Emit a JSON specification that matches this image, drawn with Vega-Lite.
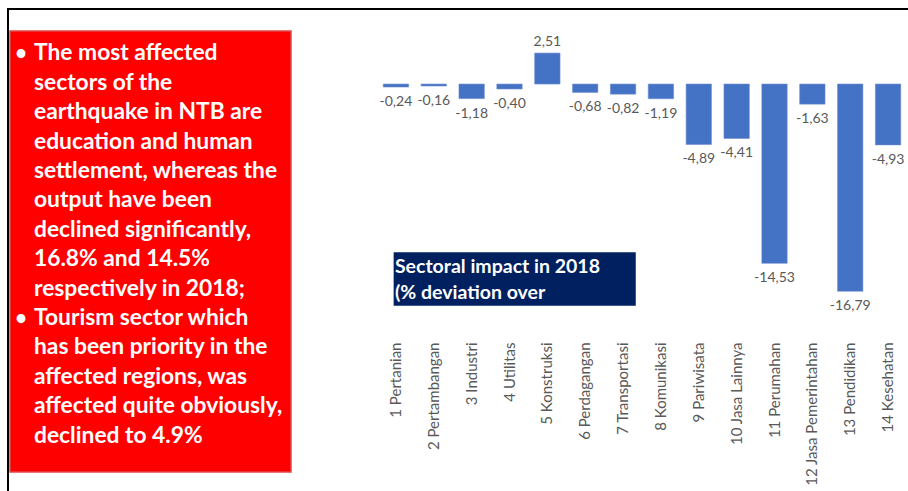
{
  "$schema": "https://vega.github.io/schema/vega-lite/v6.json",
  "background": "white",
  "padding": {"left": 7, "top": 8, "right": 0, "bottom": 0},
  "spacing": 0,
  "config": {
    "font": "Lato",
    "view": {"stroke": null},
    "locale": {"number": {"decimal": ",", "thousands": ".", "grouping": [3], "currency": ["", ""], "minus": "-"}}
  },
  "vconcat": [
    {
      "width": 901,
      "height": 2,
      "data": {"values": [{}]},
      "mark": {"type": "rect", "color": "#000000"}
    },
    {
      "hconcat": [
        {
          "hconcat": [
            {
              "width": 2,
              "height": 481,
              "data": {"values": [{}]},
              "mark": {"type": "rect", "color": "#000000"}
            },
            {
              "vconcat": [
                {
                  "width": 281,
                  "height": 1,
                  "data": {"values": [{}]},
                  "mark": {"type": "rect", "color": "#FFFFFF", "opacity": 0}
                },
                {
                  "width": 281,
                  "height": 441,
                  "view": {"fill": "#FF0000", "stroke": "#E04848", "strokeWidth": 1.5},
                  "data": {
                    "values": [
                      {"line": 1, "bullet": true, "text": "The most affected"},
                      {"line": 2, "bullet": false, "text": "sectors of the"},
                      {"line": 3, "bullet": false, "text": "earthquake in NTB are"},
                      {"line": 4, "bullet": false, "text": "education and human"},
                      {"line": 5, "bullet": false, "text": "settlement, whereas the"},
                      {"line": 6, "bullet": false, "text": "output have been"},
                      {"line": 7, "bullet": false, "text": "declined significantly,"},
                      {"line": 8, "bullet": false, "text": "16.8% and 14.5%"},
                      {"line": 9, "bullet": false, "text": "respectively in 2018;"},
                      {"line": 10, "bullet": true, "text": "Tourism sector which"},
                      {"line": 11, "bullet": false, "text": "has been priority in the"},
                      {"line": 12, "bullet": false, "text": "affected regions, was"},
                      {"line": 13, "bullet": false, "text": "affected quite obviously,"},
                      {"line": 14, "bullet": false, "text": "declined to 4.9%"}
                    ]
                  },
                  "encoding": {
                    "y": {"field": "line", "type": "ordinal", "scale": {"type": "point", "padding": 1.03}, "axis": null}
                  },
                  "layer": [
                    {
                      "mark": {"type": "text", "align": "left", "baseline": "alphabetic", "color": "white", "fontWeight": "bold", "fontSize": 22.8},
                      "encoding": {"x": {"value": 24}, "text": {"field": "text"}}
                    },
                    {
                      "transform": [{"filter": "datum.bullet"}],
                      "mark": {"type": "text", "align": "center", "baseline": "alphabetic", "color": "white", "fontWeight": "bold", "fontSize": 20},
                      "encoding": {"x": {"value": 11}, "text": {"value": "•"}}
                    }
                  ]
                }
              ],
              "spacing": 19
            }
          ],
          "spacing": 0
        },
        {
          "width": 530,
          "height": 328,
          "data": {
            "values": [
              {"sector": "1 Pertanian", "value": -0.24},
              {"sector": "2 Pertambangan", "value": -0.16},
              {"sector": "3 Industri", "value": -1.18},
              {"sector": "4 Utilitas", "value": -0.40},
              {"sector": "5 Konstruksi", "value": 2.51},
              {"sector": "6 Perdagangan", "value": -0.68},
              {"sector": "7 Transportasi", "value": -0.82},
              {"sector": "8 Komunikasi", "value": -1.19},
              {"sector": "9 Pariwisata", "value": -4.89},
              {"sector": "10 Jasa Lainnya", "value": -4.41},
              {"sector": "11 Perumahan", "value": -14.53},
              {"sector": "12 Jasa Pemerintahan", "value": -1.63},
              {"sector": "13 Pendidikan", "value": -16.79},
              {"sector": "14 Kesehatan", "value": -4.93}
            ]
          },
          "encoding": {
            "x": {
              "field": "sector", "type": "nominal", "sort": null,
              "scale": {"paddingInner": 0.33, "paddingOuter": 0.165},
              "axis": {"title": null, "labelAngle": -90, "ticks": false, "tickSize": 0, "domain": false, "labelPadding": 4, "labelFontSize": 15, "labelColor": "#595959", "labelLimit": 0}
            }
          },
          "layer": [
            {
              "mark": {"type": "bar", "color": "#4472C4", "stroke": "#6F8FCF", "strokeWidth": 0.6},
              "encoding": {
                "y": {"field": "value", "type": "quantitative", "scale": {"domain": [-20.58, 6.0], "nice": false, "zero": true}, "axis": null}
              }
            },
            {
              "transform": [{"filter": "datum.value < 0"}],
              "mark": {"type": "text", "baseline": "top", "dy": 8, "fontSize": 14, "color": "#595959"},
              "encoding": {
                "y": {"field": "value", "type": "quantitative"},
                "text": {"field": "value", "type": "quantitative", "format": ".2f"}
              }
            },
            {
              "transform": [{"filter": "datum.value >= 0"}],
              "mark": {"type": "text", "baseline": "alphabetic", "dy": -7, "fontSize": 14, "color": "#595959"},
              "encoding": {
                "y": {"field": "value", "type": "quantitative"},
                "text": {"field": "value", "type": "quantitative", "format": ".2f"}
              }
            },
            {
              "data": {"values": [{}]},
              "mark": {"type": "rect", "color": "#002060"},
              "encoding": {
                "x": {"datum": "1 Pertanian", "bandPosition": 0.41},
                "x2": {"datum": "7 Transportasi", "bandPosition": 1},
                "y": {"datum": -13.64},
                "y2": {"datum": -17.96}
              }
            },
            {
              "data": {"values": [{}]},
              "mark": {"type": "text", "align": "left", "baseline": "alphabetic", "color": "white", "fontWeight": "bold", "fontSize": 19.5, "lineHeight": 26},
              "encoding": {
                "x": {"datum": "1 Pertanian", "bandPosition": 0.46},
                "y": {"datum": -15.32},
                "text": {"value": ["Sectoral impact in 2018", "(% deviation over"]}
              }
            }
          ]
        }
      ],
      "spacing": 85
    }
  ]
}
